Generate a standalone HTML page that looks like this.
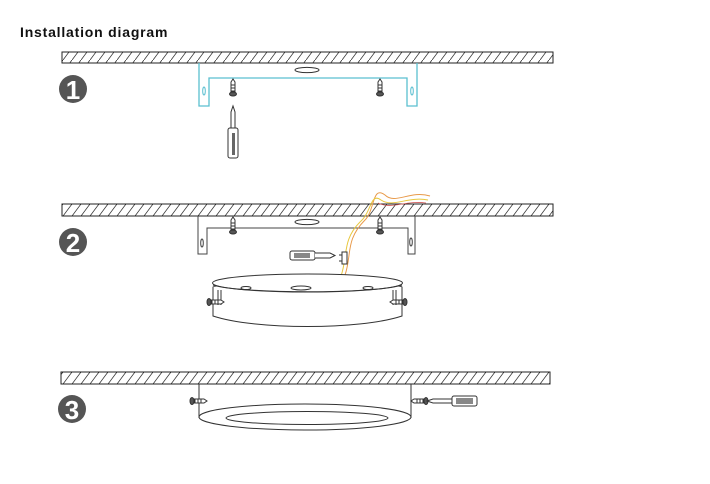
<!DOCTYPE html>
<html><head><meta charset="utf-8"><style>
html,body{margin:0;padding:0;background:#fff;width:710px;height:484px;overflow:hidden}
svg{display:block}
</style></head><body>
<svg width="710" height="484" viewBox="0 0 710 484" xmlns="http://www.w3.org/2000/svg">
<defs>
<pattern id="h" width="9" height="12" patternUnits="userSpaceOnUse">
<line x1="0" y1="12" x2="9" y2="0" stroke="#333" stroke-width="0.8"/>
</pattern>
<g id="screwV" fill="#fff" stroke="#333" stroke-width="1">
<path d="M-2,-7 L0,-10 L2,-7 L2,3 L-2,3 Z"/>
<line x1="-2" y1="-4" x2="2" y2="-4"/><line x1="-2" y1="-1" x2="2" y2="-1"/><line x1="-2" y1="2" x2="2" y2="2"/>
<ellipse cx="0" cy="5" rx="3.5" ry="2" fill="#555"/>
</g>
<g id="screwH" fill="#fff" stroke="#333" stroke-width="1">
<path d="M7,-2 L10,0 L7,2 L-3,2 L-3,-2 Z"/>
<line x1="4" y1="-2" x2="4" y2="2"/><line x1="1" y1="-2" x2="1" y2="2"/><line x1="-2" y1="-2" x2="-2" y2="2"/>
<ellipse cx="-5" cy="0" rx="2" ry="3.5" fill="#555"/>
</g>
</defs>
<text x="20" y="37" font-family="Liberation Sans, sans-serif" font-weight="bold" font-size="14" letter-spacing="0.8" fill="#111">Installation diagram</text>

<!-- Panel 1 -->
<rect x="62" y="52" width="491" height="11" fill="url(#h)" stroke="#222" stroke-width="1"/>
<path d="M199,63 V106 H209 V78 H407 V106 H417 V63" fill="none" stroke="#5bbfd0" stroke-width="1.3"/>
<ellipse cx="204" cy="91" rx="1.3" ry="4" fill="none" stroke="#5bbfd0"/>
<ellipse cx="412" cy="91" rx="1.3" ry="4" fill="none" stroke="#5bbfd0"/>
<ellipse cx="307" cy="70" rx="12" ry="2.6" fill="none" stroke="#333"/>
<use href="#screwV" x="233" y="89"/>
<use href="#screwV" x="380" y="89"/>
<path d="M231,128 V112 L233,106 L235,112 V128" fill="#fff" stroke="#333"/>
<rect x="228" y="128" width="10" height="30" rx="2" fill="#fff" stroke="#333"/>
<rect x="232" y="133" width="3" height="22" fill="#666"/>
<circle cx="73" cy="89" r="14" fill="#555"/>
<text x="73" y="99" text-anchor="middle" font-family="Liberation Sans, sans-serif" font-weight="bold" font-size="26" fill="#fff">1</text>

<!-- Panel 2 -->
<rect x="62" y="204" width="491" height="12" fill="url(#h)" stroke="#222" stroke-width="1"/>
<path d="M198,216 V254 H207 V228 H408 V254 H415 V216" fill="none" stroke="#444" stroke-width="1"/>
<ellipse cx="202" cy="243" rx="1.3" ry="4" fill="none" stroke="#444"/>
<ellipse cx="411" cy="242" rx="1.3" ry="4" fill="none" stroke="#444"/>
<ellipse cx="307" cy="222" rx="12" ry="2.6" fill="none" stroke="#333"/>
<use href="#screwV" x="233" y="227"/>
<use href="#screwV" x="380" y="227"/>
<path d="M430,196 C410,190 395,205 385,195 C372,185 375,210 365,220 C345,240 352,255 345,275 L343,282" fill="none" stroke="#e89a4a" stroke-width="1"/>
<path d="M428,200 C408,196 393,208 381,200 C370,192 372,212 360,222 C342,240 348,256 341,276 L340,282" fill="none" stroke="#e8c840" stroke-width="1"/>
<path d="M426,203 C405,200 392,210 378,203" fill="none" stroke="#d05a5a" stroke-width="0.8"/>
<rect x="290" y="251" width="25" height="9" rx="2" fill="#fff" stroke="#333"/>
<rect x="294" y="253" width="16" height="5" fill="#888"/>
<path d="M315,253 H330 L335,255.5 L330,258 H315" fill="#fff" stroke="#333"/>
<rect x="342" y="252" width="5" height="12" fill="#fff" stroke="#333"/>
<line x1="339" y1="255" x2="342" y2="255" stroke="#333"/><line x1="339" y1="261" x2="342" y2="261" stroke="#333"/>
<path d="M213,287 C214,283 400,283 402,287 L402,316 C360,330 255,330 213,316 Z" fill="#fff" stroke="#333"/>
<ellipse cx="307.5" cy="283" rx="95" ry="9" fill="#fff" stroke="#333"/>
<path d="M213,285 C240,294 375,294 402,285" fill="none" stroke="#333"/>
<ellipse cx="246" cy="288" rx="5" ry="1.5" fill="none" stroke="#333"/>
<ellipse cx="368" cy="288" rx="5" ry="1.5" fill="none" stroke="#333"/>
<ellipse cx="301" cy="288" rx="10" ry="2" fill="none" stroke="#333"/>
<path d="M218,290 V305 M221,290 V305 M393,290 V305 M396,290 V305" stroke="#333"/>
<use href="#screwH" x="214" y="302"/>
<g transform="translate(400,302) scale(-1,1)"><use href="#screwH"/></g>
<circle cx="73" cy="242" r="14" fill="#555"/>
<text x="73" y="252" text-anchor="middle" font-family="Liberation Sans, sans-serif" font-weight="bold" font-size="26" fill="#fff">2</text>

<!-- Panel 3 -->
<rect x="61" y="372" width="489" height="12" fill="url(#h)" stroke="#222" stroke-width="1"/>
<line x1="199" y1="384" x2="199" y2="418" stroke="#333"/>
<line x1="411" y1="384" x2="411" y2="418" stroke="#333"/>
<ellipse cx="305" cy="417" rx="106" ry="13" fill="none" stroke="#333"/>
<ellipse cx="307" cy="418" rx="81" ry="6.5" fill="none" stroke="#333"/>
<use href="#screwH" x="197" y="401"/>
<g transform="translate(421,401) scale(-1,1)"><use href="#screwH"/></g>
<path d="M452,399 H433 L427,401 L433,403 H452" fill="#fff" stroke="#333"/>
<rect x="452" y="396" width="25" height="10" rx="2" fill="#fff" stroke="#333"/>
<rect x="456" y="398" width="17" height="6" fill="#888"/>
<circle cx="72" cy="409" r="14" fill="#555"/>
<text x="72" y="419" text-anchor="middle" font-family="Liberation Sans, sans-serif" font-weight="bold" font-size="26" fill="#fff">3</text>
</svg>
</body></html>
